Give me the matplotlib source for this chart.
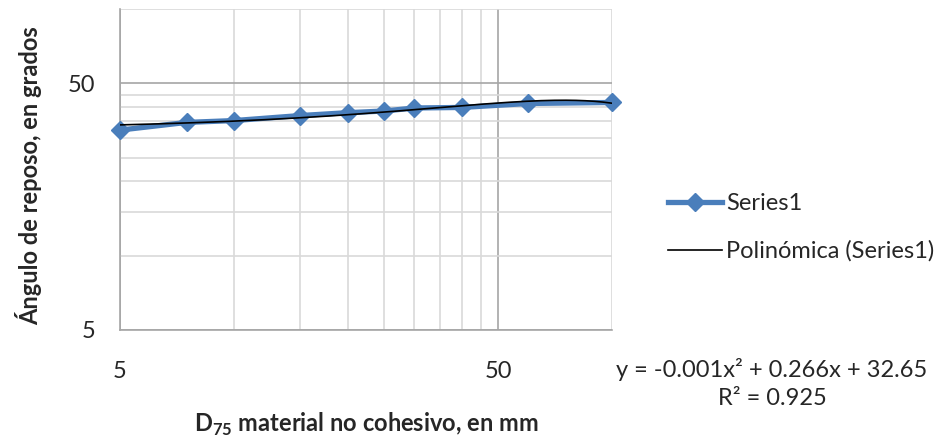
import numpy as np
import matplotlib.pyplot as plt
from matplotlib.ticker import FixedLocator, NullFormatter, FixedFormatter

plt.rcParams['font.family'] = ['Lato', 'DejaVu Sans']
plt.rcParams['mathtext.fontset'] = 'custom'
plt.rcParams['mathtext.rm'] = 'Lato'
plt.rcParams['mathtext.bf'] = 'Lato:bold'

# data
d75 = [5, 7.5, 10, 15, 20, 25, 30, 40, 60, 100]
angle = [32.3, 34.7, 35.3, 37.0, 38.0, 38.6, 39.7, 39.9, 41.4, 41.8]

x_major = [5, 50]
x_minor = [10, 15, 20, 25, 30, 35, 40, 45, 100]
y_major = [5, 50]
y_minor = [10, 15, 20, 25, 30, 35, 40, 45, 100]

eq_text = "y = -0.001x² + 0.266x + 32.65"
r2_text = "R² = 0.925"

blue = '#4a7ebb'
grid_minor = '#d9d9d9'
grid_major = '#a6a6a6'
txt = '#262626'
fs = 17

fig = plt.figure(figsize=(9.44, 4.41), dpi=100)
ax = fig.add_axes([120 / 944, 111 / 441, 492 / 944, 321 / 441])
ax.set_xscale('log')
ax.set_yscale('log')
ax.set_xlim(5, 100)
ax.set_ylim(5, 100)

ax.xaxis.set_major_locator(FixedLocator(x_major))
ax.xaxis.set_major_formatter(FixedFormatter([str(v) for v in x_major]))
ax.xaxis.set_minor_locator(FixedLocator(x_minor))
ax.xaxis.set_minor_formatter(NullFormatter())
ax.yaxis.set_major_locator(FixedLocator(y_major))
ax.yaxis.set_major_formatter(FixedFormatter([str(v) for v in y_major]))
ax.yaxis.set_minor_locator(FixedLocator(y_minor))
ax.yaxis.set_minor_formatter(NullFormatter())

ax.grid(True, which='minor', color=grid_minor, linewidth=1.2)
ax.grid(True, which='major', color=grid_major, linewidth=1.2)
ax.set_axisbelow(True)
ax.tick_params(which='both', length=0)
ax.tick_params(axis='x', pad=22, labelsize=fs, colors=txt)
ax.tick_params(axis='y', pad=18, labelsize=fs, colors=txt)
for s in ['top', 'right']:
    ax.spines[s].set_visible(False)
for s in ['left', 'bottom']:
    ax.spines[s].set_color(grid_major)
    ax.spines[s].set_linewidth(1.2)

ax.plot(d75, angle, color=blue, lw=3.8, marker='D', ms=9, label='Series1',
        clip_on=False, zorder=3)

# second order polynomial trend
coef = np.polyfit(d75, angle, 2)
xs = np.linspace(min(d75), max(d75), 300)
ax.plot(xs, np.polyval(coef, xs), color='black', lw=1.2,
        label='Polinómica (Series1)', zorder=4)

leg = fig.legend(loc='upper left', bbox_to_anchor=(668 / 944, 1 - 193 / 441),
                 frameon=False, fontsize=fs, handlelength=2.3, handletextpad=0.17,
                 labelspacing=1.12, borderpad=0, borderaxespad=0)
for t in leg.get_texts():
    t.set_color(txt)

fig.text(772 / 944, 1 - 377 / 441, eq_text, ha='center', va='baseline',
         fontsize=fs, color=txt)
fig.text(772 / 944, 1 - 405 / 441, r2_text, ha='center', va='baseline',
         fontsize=fs, color=txt)

fig.text(29 / 944, 1 - 176 / 441, 'Ángulo de reposo, en grados', rotation=90,
         ha='center', va='center', fontsize=fs, fontweight='bold', color=txt)
fig.text(366 / 944, 1 - 432 / 441, r'D$_\mathbf{75}$ material no cohesivo, en mm',
         ha='center', va='baseline', fontsize=fs, fontweight='bold', color=txt)

fig.savefig('out.png', dpi=100)
